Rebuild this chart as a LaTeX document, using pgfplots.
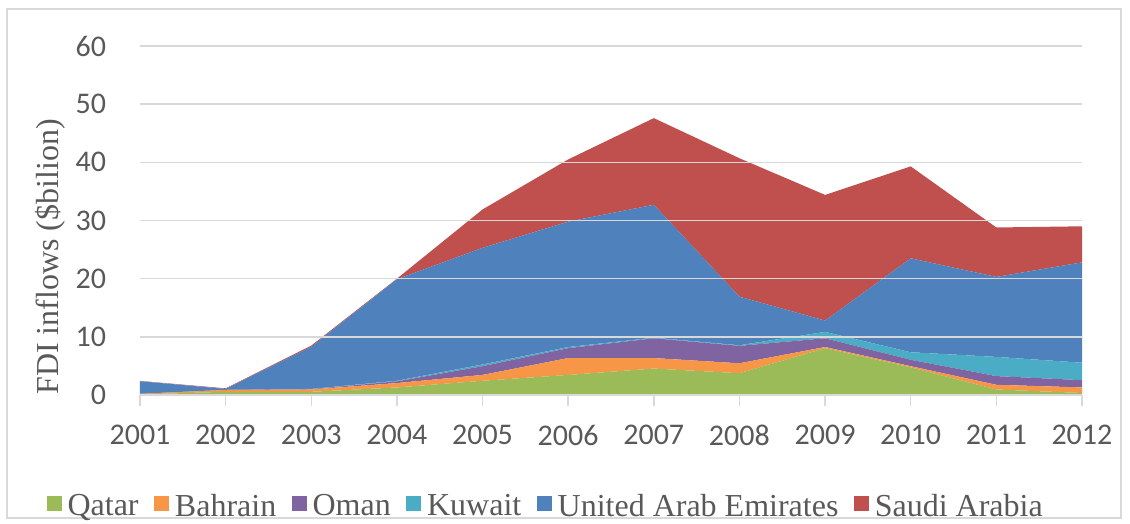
\documentclass[border=0pt]{standalone}
\usepackage{pgfplots}
\usepackage{pgfplotstable}
\pgfplotsset{compat=1.18}
\usepackage{fontspec}
\setmainfont{Liberation Serif}
\newfontfamily\calibri{Carlito}
\definecolor{cQatar}{HTML}{9BBB59}
\definecolor{cBahrain}{HTML}{F79646}
\definecolor{cOman}{HTML}{8064A2}
\definecolor{cKuwait}{HTML}{4BACC6}
\definecolor{cUAE}{HTML}{4F81BD}
\definecolor{cSaudi}{HTML}{C0504D}
\definecolor{txt}{HTML}{595959}
\definecolor{gridc}{HTML}{D9D9D9}

\pgfplotstableread{
year Qatar Bahrain Oman Kuwait UAE Saudi
2001 0.10 0.10 0.02 0.00 2.15 0.05
2002 0.55 0.30 0.05 0.00 0.15 0.10
2003 0.55 0.40 0.05 0.05 7.25 0.20
2004 1.30 0.75 0.30 0.10 17.45 0.10
2005 2.45 1.00 1.50 0.30 20.05 6.60
2006 3.45 2.90 1.70 0.20 21.55 10.70
2007 4.55 1.80 3.40 0.10 22.85 14.90
2008 3.75 1.70 3.00 0.10 8.35 23.80
2009 8.05 0.20 1.50 1.10 1.95 21.60
2010 4.75 0.20 1.10 1.30 16.15 15.80
2011 0.95 0.80 1.50 3.30 13.75 8.50
2012 0.35 0.95 1.25 3.00 17.25 6.20
}\datatable

\begin{document}
\begin{tikzpicture}
\useasboundingbox (-105pt,-96.75pt) rectangle (742.5pt,296.25pt);
\draw[gridc, line width=0.8pt] (-99.75pt,-92.25pt) rectangle (735.75pt,289.5pt);
\begin{axis}[
  scale only axis,
  width=706.5pt, height=261.75pt,
  at={(0,0)}, anchor=south west,
  xmin=2001, xmax=2012,
  ymin=0, ymax=60,
  xtick={2001,...,2012},
  ytick={0,10,...,60},
  stack plots=y,
  area style,
  axis x line*=bottom,
  axis y line*=left,
  y axis line style={draw=none},
  x axis line style={draw=gridc, line width=1.1pt},
  ymajorgrids,
  grid style={draw=gridc, line width=1.1pt},
  tick align=outside,
  major tick length=8pt,
  xtick style={draw=gridc, line width=1.1pt},
  ytick style={draw=none},
  /pgf/number format/assume math mode=true,
  /pgf/number format/1000 sep={},
  ticklabel style={font=\calibri\fontsize{22.5}{27}\selectfont, text=txt},
  xticklabel style={yshift=-11pt},
  yticklabel style={xshift=-14pt},
  ylabel={FDI inflows (\$bilion)},
  ylabel style={at={(axis description cs:-0.095,0.396)}, anchor=center, font=\fontsize{24}{28}\selectfont, text=txt},
  legend columns=6,
  legend style={at={(axis description cs:0.431,-0.318)}, anchor=center, draw=none, fill=none,
    font=\fontsize{24}{28}\selectfont, text=txt,
    /tikz/every odd column/.append style={column sep=2.5pt},
    /tikz/every even column/.append style={column sep=9.5pt}},
  legend cell align=left,
  legend image code/.code={\fill[#1,draw=none] (0pt,-3.6pt) rectangle (11.25pt,7.65pt);},
]
\addplot[fill=cQatar, draw=none] table[x=year,y=Qatar]{\datatable} \closedcycle;
\addplot[fill=cBahrain, draw=none] table[x=year,y=Bahrain]{\datatable} \closedcycle;
\addplot[fill=cOman, draw=none] table[x=year,y=Oman]{\datatable} \closedcycle;
\addplot[fill=cKuwait, draw=none] table[x=year,y=Kuwait]{\datatable} \closedcycle;
\addplot[fill=cUAE, draw=none] table[x=year,y=UAE]{\datatable} \closedcycle;
\addplot[fill=cSaudi, draw=none] table[x=year,y=Saudi]{\datatable} \closedcycle;
\legend{Qatar,Bahrain,Oman,Kuwait,United Arab Emirates,Saudi Arabia}
\end{axis}
\end{tikzpicture}
\end{document}
